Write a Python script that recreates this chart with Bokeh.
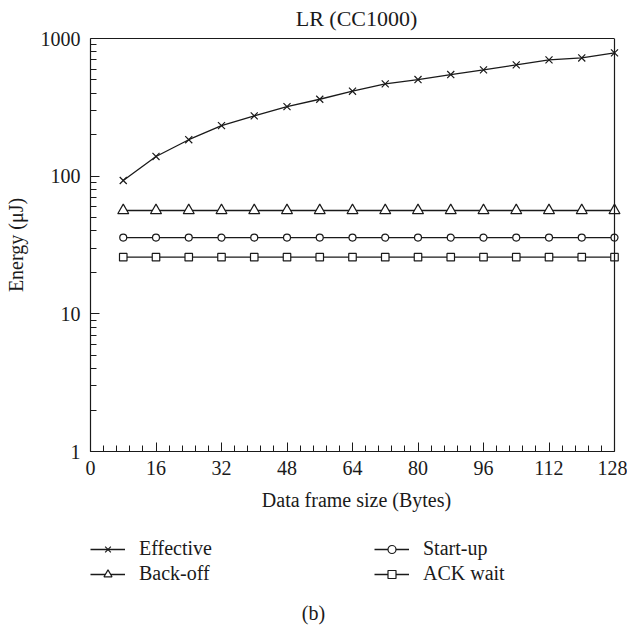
from bokeh.plotting import figure
from bokeh.layouts import column
from bokeh.models import (Range1d, LinearAxis, FixedTicker, SingleIntervalTicker,
                          PrintfTickFormatter, Legend, LegendItem, Span, Label)
from bokeh.embed import file_html
from bokeh.resources import INLINE

# ---- data ----
frame_size = [8, 16, 24, 32, 40, 48, 56, 64, 72, 80, 88, 96, 104, 112, 120, 128]
effective = [93, 139, 184, 233, 274, 320, 362, 414, 468, 503, 547, 592, 643, 699, 722, 786]
back_off = [56.3, 56.3, 56.3, 56.3, 56.3, 56.3, 56.3, 56.3, 56.3, 56.3, 56.3, 56.3, 56.3, 56.3, 56.3, 56.3]
start_up = [35.8, 35.8, 35.8, 35.8, 35.8, 35.8, 35.8, 35.8, 35.8, 35.8, 35.8, 35.8, 35.8, 35.8, 35.8, 35.8]
ack_wait = [25.8, 25.8, 25.8, 25.8, 25.8, 25.8, 25.8, 25.8, 25.8, 25.8, 25.8, 25.8, 25.8, 25.8, 25.8, 25.8]
series_names = ["Effective", "Back-off", "Start-up", "ACK wait"]
y_ticks = [1, 10, 100, 1000]
x_min, x_max, x_step = 0, 128, 16
title_text = "LR (CC1000)"
x_label = "Data frame size (Bytes)"
y_label = "Energy (\u03bcJ)"
caption = "(b)"

FONT = "Liberation Serif"
FS = "20px"
INK = "#1a1a1a"
NAN = float("nan")

FRAME_W, FRAME_H = 532, 413
TOP_H, BOTTOM_H = 520, 107
x_end = x_max * FRAME_W / 524.0

p = figure(width=627, height=TOP_H, frame_width=FRAME_W, frame_height=FRAME_H,
           x_range=Range1d(x_min, x_end), y_range=Range1d(y_ticks[0], y_ticks[-1]),
           y_axis_type="log", output_backend="svg", toolbar_location=None,
           min_border_left=90, min_border_right=5, min_border_top=38, min_border_bottom=TOP_H - 38 - FRAME_H,
           background_fill_color="white", border_fill_color="white", outline_line_color=None)
p.grid.visible = False

p.title.text = title_text
p.title.align = "center"
p.title.vertical_align = "top"
p.title.standoff = 11
p.title.text_font = FONT
p.title.text_font_size = "22px"
p.title.text_font_style = "normal"
p.title.text_color = INK

xa = p.xaxis[0]
xa.ticker = SingleIntervalTicker(interval=x_step, num_minor_ticks=5)
xa.bounds = (x_min, x_max)
xa.axis_label = x_label
xa.axis_label_standoff = 11
ya = p.yaxis[0]
ya.ticker = FixedTicker(ticks=y_ticks, minor_ticks=[m * d for d in y_ticks[:-1] for m in range(2, 10)])
ya.formatter = PrintfTickFormatter(format="%d")
ya.axis_label = y_label
ya.axis_label_standoff = 11
for ax in (xa, ya):
    ax.major_tick_in = 9
    ax.major_tick_out = 0
    ax.minor_tick_in = 6
    ax.minor_tick_out = 0
    ax.axis_line_color = INK
    ax.major_tick_line_color = INK
    ax.minor_tick_line_color = INK
    ax.axis_line_width = 1.2
    ax.major_label_text_font = FONT
    ax.major_label_text_font_size = FS
    ax.major_label_text_color = INK
    ax.axis_label_text_font = FONT
    ax.axis_label_text_font_size = FS
    ax.axis_label_text_font_style = "normal"
    ax.axis_label_text_color = INK
xa.major_label_standoff = 9
ya.major_label_standoff = 10

top = LinearAxis(bounds=(x_min, x_max), ticker=FixedTicker(ticks=[]), major_tick_in=0, major_tick_out=0,
                 minor_tick_in=0, minor_tick_out=0, major_label_text_font_size="0px",
                 axis_line_color=INK, axis_line_width=1.2)
p.add_layout(top, "above")
p.add_layout(Span(location=x_max, dimension="height", line_color=INK, line_width=1.2))

styles = [("x", 10), ("triangle", 11), ("circle", 7), ("square", 7.5)]
for vals, (mk, sz) in zip([effective, back_off, start_up, ack_wait], styles):
    p.line(frame_size, vals, line_color=INK, line_width=1.3)
    p.scatter(frame_size, vals, marker=mk, size=sz, line_color=INK, line_width=1.2, fill_color="white")

# ---- legend and caption strip below the chart (frame aligned with the chart's frame) ----
q = figure(width=627, height=BOTTOM_H, x_range=Range1d(0, 1), y_range=Range1d(0, 1),
           x_axis_type=None, y_axis_type=None, output_backend="svg", toolbar_location=None,
           min_border=0, min_border_left=0, min_border_right=0, min_border_top=0, min_border_bottom=0,
           background_fill_color="white", border_fill_color="white", outline_line_color=None)
items = []
for name, (mk, sz) in zip(series_names, styles):
    # legend proxies: a single NaN point, so nothing is drawn in the strip itself
    lr = q.line(x=[NAN], y=[NAN], line_color=INK, line_width=1.3)
    sr = q.scatter(x=[NAN], y=[NAN], marker=mk, size=sz, line_color=INK, line_width=1.2, fill_color="white")
    items.append(LegendItem(label=name, renderers=[lr, sr]))

legend = Legend(items=items, ncols=2, location=(0, 42), padding=0, margin=0, spacing=2,
                glyph_width=35, glyph_height=20, label_height=20, label_width=233, label_standoff=14,
                label_text_font=FONT, label_text_font_size=FS, label_text_color=INK,
                border_line_color=None, background_fill_alpha=0)
q.add_layout(legend, "center")
q.add_layout(Label(text=caption, x=223, y=15, x_units="screen", y_units="screen",
                   text_align="center", text_baseline="middle", text_font=FONT,
                   text_font_size=FS, text_color=INK))

layout = column(p, q, spacing=0)
open("out.html", "w").write(file_html(layout, INLINE))
